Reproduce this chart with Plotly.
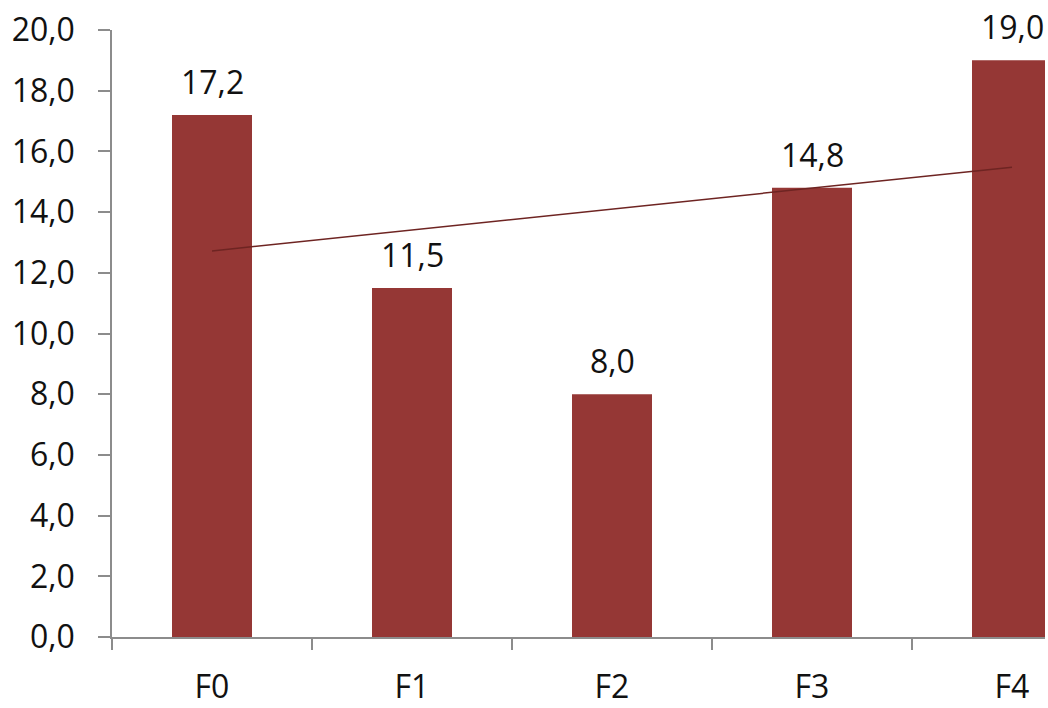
import numpy as np
import plotly.graph_objects as go

categories = ["F0", "F1", "F2", "F3", "F4"]
values = [17.2, 11.5, 8.0, 14.8, 19.0]
y_ticks = [0, 2, 4, 6, 8, 10, 12, 14, 16, 18, 20]

# linear trendline computed from the data (as in the original spreadsheet chart)
xi = np.arange(len(values))
slope, intercept = np.polyfit(xi, values, 1)
trend = list(intercept + slope * xi)

BAR = "#953735"
FONT = "Open Sans"
FS = 32

fig = go.Figure()
fig.add_trace(go.Bar(
    x=categories, y=values, width=0.4,
    marker=dict(color=BAR, line=dict(width=0)),
    showlegend=False,
))
fig.add_trace(go.Scatter(
    x=categories, y=trend, mode="lines",
    line=dict(color="#6e2422", width=1.5),
    showlegend=False,
))

for c, v in zip(categories, values):
    fig.add_annotation(
        x=c, y=v, text=f"{v:.1f}".replace(".", ","),
        showarrow=False, yanchor="bottom", yshift=10,
        font=dict(family=FONT, size=FS, color="#111111"),
    )

fig.update_layout(
    width=1048, height=708,
    margin=dict(l=112, r=3, t=30, b=71, autoexpand=False),
    paper_bgcolor="white", plot_bgcolor="white",
    separators=",.",
    bargap=0.6,
    font=dict(family=FONT, size=FS, color="#111111"),
)
fig.update_xaxes(
    type="category", range=[-0.5, 4.165],
    showline=True, linecolor="#8c8c8c", linewidth=1.5,
    ticks="outside", tickson="boundaries", ticklen=11, tickcolor="#8c8c8c", tickwidth=1.5,
    showgrid=False, zeroline=False, automargin=False,
    tickfont=dict(family=FONT, size=FS, color="#111111"),
    ticklabelstandoff=21,
)
fig.update_yaxes(
    range=[0, 20], tickvals=y_ticks, tickformat=".1f",
    showline=True, linecolor="#8c8c8c", linewidth=1.5,
    ticks="outside", ticklen=12, tickcolor="#8c8c8c", tickwidth=1.5,
    showgrid=False, zeroline=False, automargin=False,
    tickfont=dict(family=FONT, size=FS, color="#111111"),
    ticklabelstandoff=17,
)

fig.write_html("out.html")
